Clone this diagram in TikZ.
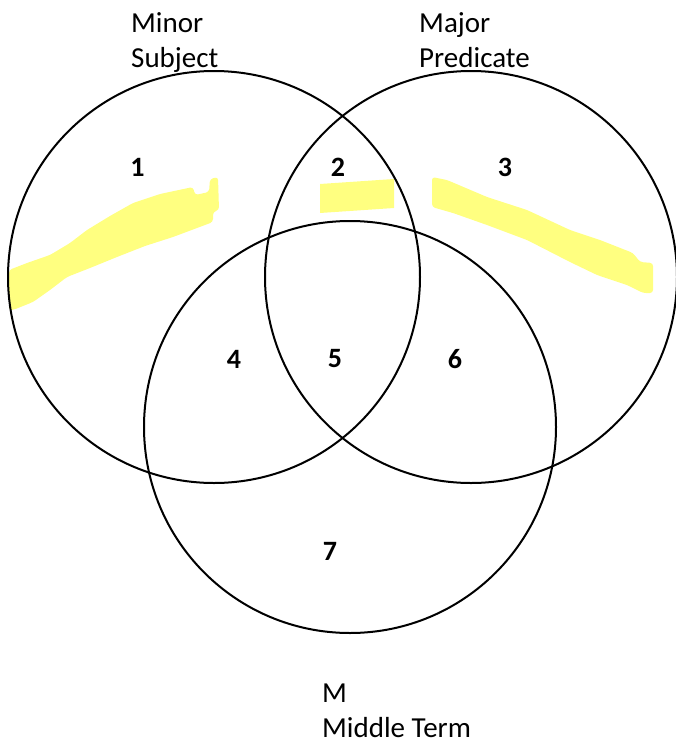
\documentclass[tikz,border=0pt]{standalone}
\usepackage{fontspec}
\setmainfont{Carlito}
\definecolor{hl}{RGB}{255,255,128}
\tikzset{
  circ/.style={draw=black, line width=2pt, circle, minimum size=412pt, inner sep=0pt},
  lab/.style={inner sep=0pt, anchor=base west, font=\fontsize{29}{35}\selectfont},
  num/.style={inner sep=0pt, font=\fontsize{28}{33}\selectfont\bfseries},
  hlmark/.style={fill=hl, draw=none, rounded corners=3pt}
}
\begin{document}
\begin{tikzpicture}[x=1pt,y=-1pt]
\useasboundingbox (0,0) rectangle (675,744);
% highlights
\path[hlmark] (9,270) -- (27,263) -- (50,255) -- (70,243) -- (87,230) -- (110,216) -- (133,203) -- (160,194) -- (193,187) -- (195,195) -- (209,192) -- (210,179) -- (218,177) -- (219,210) -- (213,212) -- (213,222) -- (173,237) -- (145,246) -- (117,257) -- (90,268) -- (67,277) -- (50,290) -- (33,302) -- (13,310) -- (9,310) -- cycle;
\fill[hl] (320,184) -- (394,179) -- (394,208) -- (320,213) -- cycle;
\path[hlmark] (432,177) -- (447,180) -- (487,197) -- (527,210) -- (570,230) -- (600,240) -- (633,253) -- (640,262) -- (653,263) -- (653,293) -- (643,293) -- (627,285) -- (597,275) -- (570,262) -- (527,240) -- (487,225) -- (453,213) -- (432,207) -- cycle;
% circles
\node[circ] (L) at (214,277) {};
\node[circ] (R) at (471,277) {};
\node[circ] (B) at (350,427) {};
% labels
\node[lab] (minor) at (131,32) {Minor};
\node[lab] (subject) at (131,67) {Subject};
\node[lab] (major) at (419,32) {Major};
\node[lab] (predicate) at (419,67) {Predicate};
\node[lab] (m) at (322,702) {M};
\node[lab] (middle) at (322,737) {Middle Term};
% region numbers
\node[num] (n1) at (137.5,167.5) {1};
\node[num] (n2) at (338,167.5) {2};
\node[num] (n3) at (505,167.5) {3};
\node[num] (n4) at (234,359) {4};
\node[num] (n5) at (335,359) {5};
\node[num] (n6) at (455,359) {6};
\node[num] (n7) at (330,551) {7};
\end{tikzpicture}
\end{document}
